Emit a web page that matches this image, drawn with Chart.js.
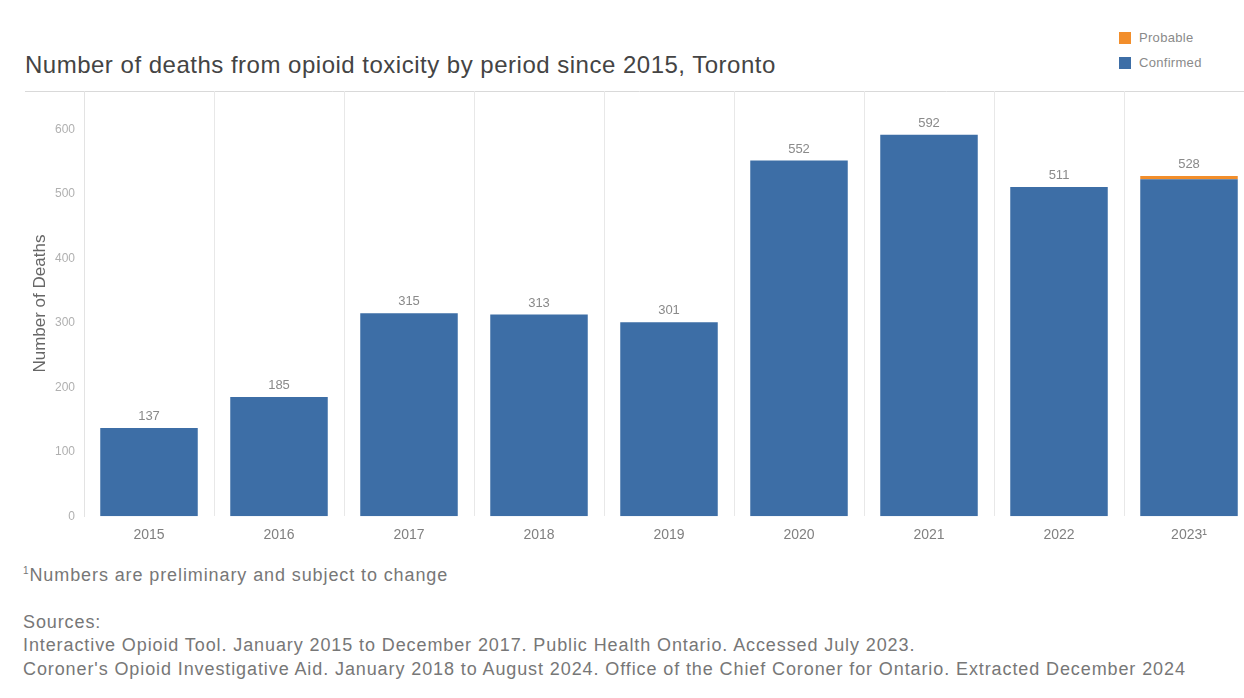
<!DOCTYPE html>
<html>
<head>
<meta charset="utf-8">
<script src="https://cdn.jsdelivr.net/npm/chart.js@4/dist/chart.umd.min.js"></script>
<style>
  html, body { margin: 0; padding: 0; background: #fff; overflow: hidden; width: 1244px; height: 698px; }
  body { position: relative; font-family: "Liberation Sans", Arial, sans-serif; }
  #title { position: absolute; left: 25px; top: 51px; font-size: 24px; letter-spacing: 0.5px; color: #444; white-space: nowrap; }
  #legend { position: absolute; left: 1119px; top: 25px; font-size: 13px; letter-spacing: 0.3px; color: #8a8a8a; }
  #legend div { height: 25px; display: flex; align-items: center; }
  #legend span.sw { display: inline-block; width: 12px; height: 12px; margin-right: 8px; }
  #wrap { position: absolute; left: 0; top: 0; width: 1254px; height: 560px; }
  .foot { position: absolute; left: 23px; font-size: 18px; letter-spacing: 0.9px; color: #777; white-space: nowrap; }
</style>
</head>
<body>
<div id="title">Number of deaths from opioid toxicity by period since 2015, Toronto</div>
<div id="legend">
  <div><span class="sw" style="background:#f28e2b"></span>Probable</div>
  <div><span class="sw" style="background:#3d6ea6"></span>Confirmed</div>
</div>
<div id="wrap"><canvas id="c" width="1254" height="560"></canvas></div>
<div class="foot" style="top:565px;"><sup style="font-size:10px">1</sup>Numbers are preliminary and subject to change</div>
<div class="foot" style="top:612px;">Sources:</div>
<div class="foot" style="top:635px;">Interactive Opioid Tool. January 2015 to December 2017. Public Health Ontario. Accessed July 2023.</div>
<div class="foot" style="top:659px;">Coroner's Opioid Investigative Aid. January 2018 to August 2024. Office of the Chief Coroner for Ontario. Extracted December 2024</div>
<script>
const categories = ["2015", "2016", "2017", "2018", "2019", "2020", "2021", "2022", "2023¹"];
const confirmed = [137, 185, 315, 313, 301, 552, 592, 511, 523];
const probable  = [0, 0, 0, 0, 0, 0, 0, 0, 5];
const yTicks = [0, 100, 200, 300, 400, 500, 600];

const FONT = '"Liberation Sans", Arial, sans-serif';

const totalsPlugin = {
  id: 'totals',
  afterDatasetsDraw(chart) {
    const ctx = chart.ctx;
    const meta0 = chart.getDatasetMeta(0);
    const y = chart.scales.y;
    ctx.save();
    ctx.font = '13px ' + FONT;
    ctx.fillStyle = '#8a8a8a';
    ctx.textAlign = 'center';
    ctx.textBaseline = 'bottom';
    categories.forEach((c, i) => {
      const total = confirmed[i] + probable[i];
      const x = meta0.data[i].x;
      ctx.fillText(String(total), x, y.getPixelForValue(total) - 5);
    });
    ctx.restore();
  },
  beforeDraw(chart) {
    const ctx = chart.ctx;
    const top = chart.chartArea.top;
    ctx.save();
    ctx.strokeStyle = '#d9d9d9';
    ctx.lineWidth = 1;
    ctx.beginPath();
    ctx.moveTo(25, top + 0.5);
    ctx.lineTo(chart.width, top + 0.5);
    ctx.stroke();
    ctx.restore();
  }
};

new Chart(document.getElementById('c'), {
  type: 'bar',
  data: {
    labels: categories,
    datasets: [
      { label: 'Confirmed', data: confirmed, backgroundColor: '#3d6ea6', stack: 's', barPercentage: 0.75, categoryPercentage: 1.0 },
      { label: 'Probable', data: probable, backgroundColor: '#f28e2b', stack: 's', barPercentage: 0.75, categoryPercentage: 1.0 }
    ]
  },
  options: {
    responsive: false,
    animation: false,
    layout: { padding: { left: 30, top: 91, right: 0, bottom: 5 } },
    plugins: { legend: { display: false }, tooltip: { enabled: false } },
    scales: {
      x: {
        stacked: true,
        offset: true,
        grid: { offset: true, color: '#e8e8e8', drawTicks: false },
        border: { display: false },
        ticks: { color: '#808080', font: { size: 14, family: FONT }, padding: 11 }
      },
      y: {
        stacked: true,
        min: 0,
        max: 660,
        afterBuildTicks(scale) { scale.ticks = yTicks.map(v => ({ value: v })); },
        afterFit(scale) { scale.width = 54; },
        grid: { display: false, drawTicks: false },
        border: { display: true, color: '#e3e3e3' },
        title: { display: true, text: 'Number of Deaths', color: '#666', font: { size: 17, family: FONT }, padding: 0 },
        ticks: { color: '#b0b0b0', font: { size: 12, family: FONT }, padding: 9 }
      }
    }
  },
  plugins: [totalsPlugin]
});
</script>
</body>
</html>
